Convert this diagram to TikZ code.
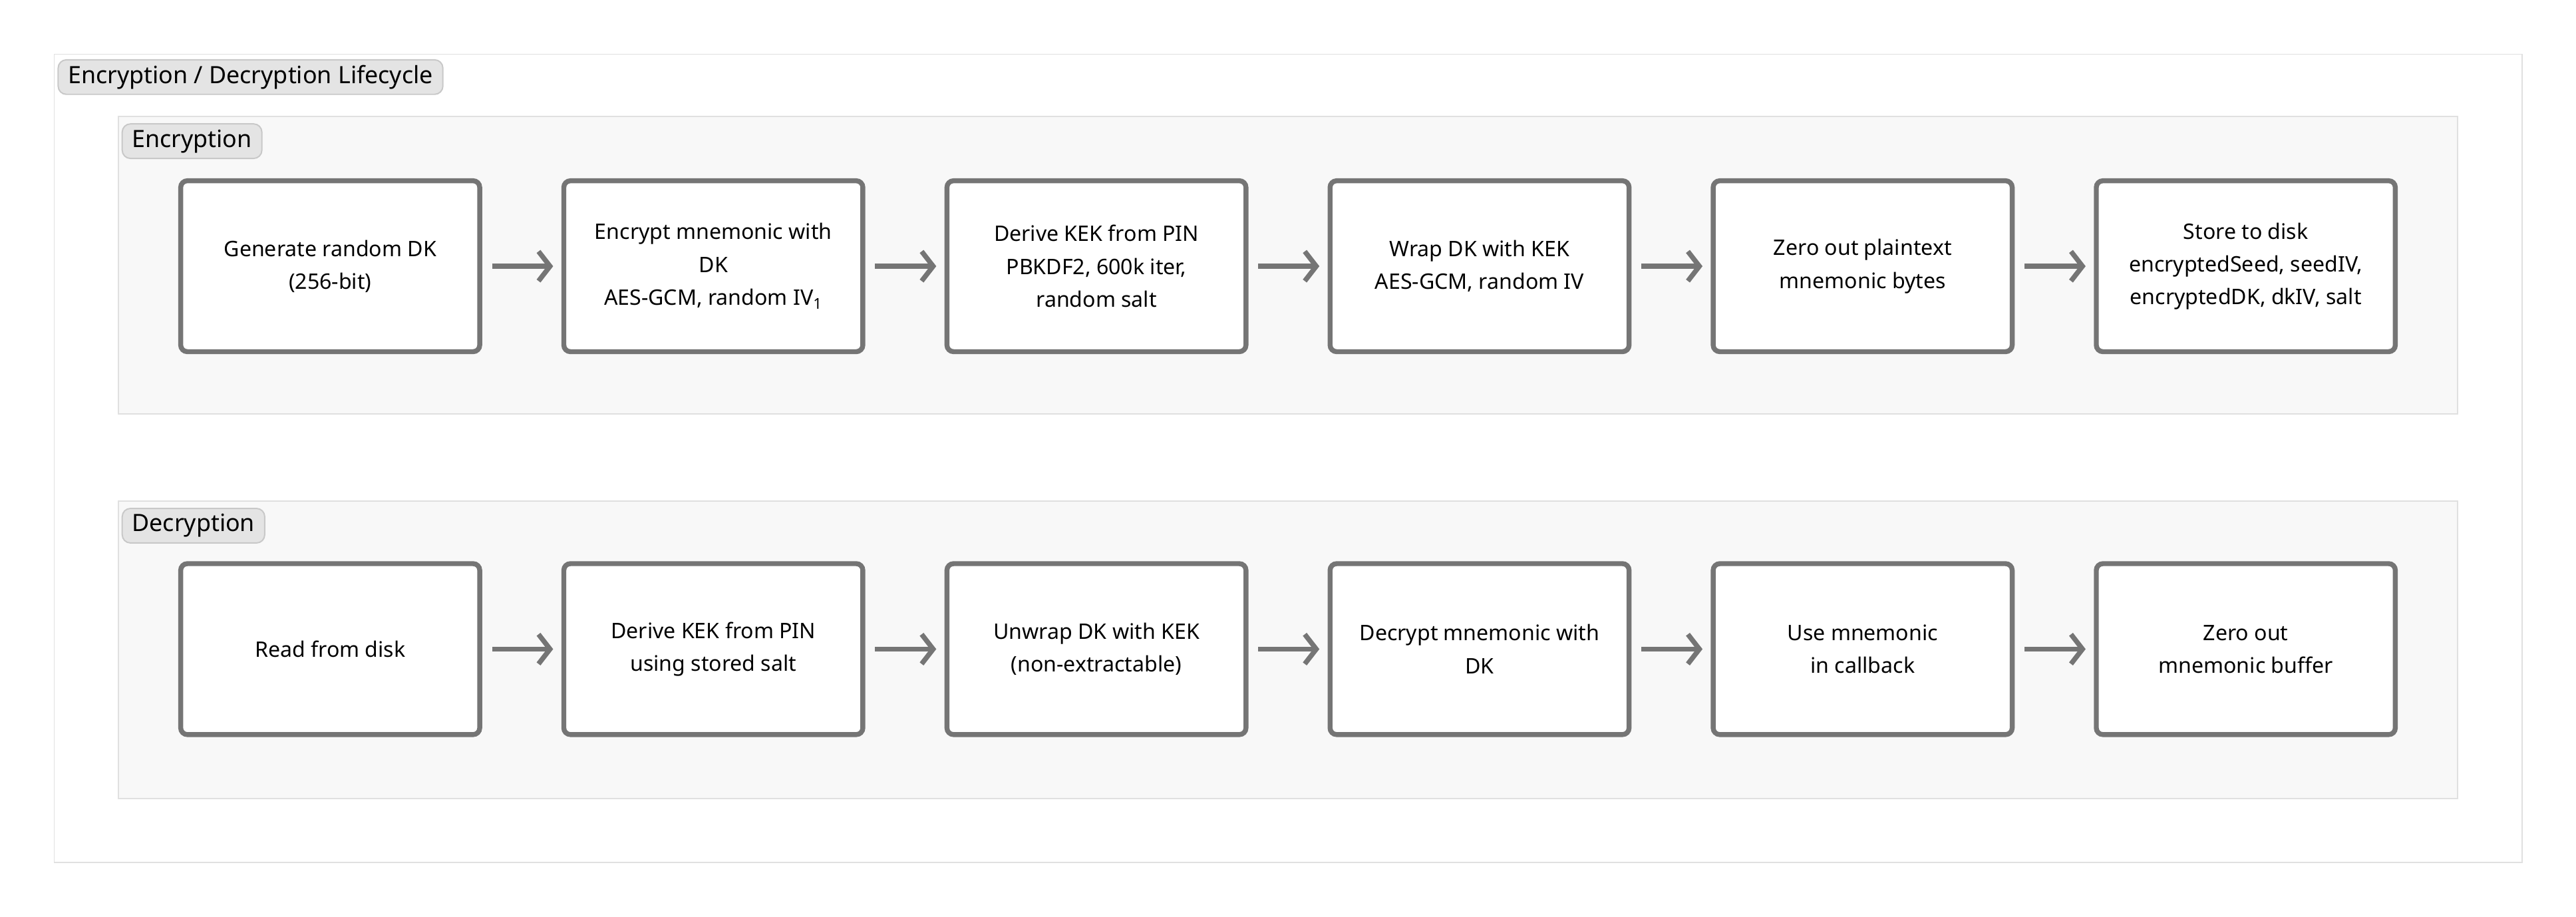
\documentclass[tikz,border=0pt]{standalone}
\usepackage{fontspec}
\setmainfont{Noto Sans}
\usetikzlibrary{arrows.meta}
\definecolor{bx}{HTML}{757575}
\definecolor{tabf}{HTML}{E4E4E4}
\definecolor{tabd}{HTML}{C8C8C8}
\definecolor{panf}{HTML}{F8F8F8}
\definecolor{pand}{HTML}{E0E0E0}
\begin{document}
\begin{tikzpicture}[x=1pt,y=-1pt,
  stepbox/.style={draw=bx,line width=3pt,rounded corners=4pt,fill=white,minimum width=182pt,minimum height=104pt,align=center,font=\fontsize{13}{20}\selectfont,inner sep=0pt},
  tab/.style={draw=tabd,fill=tabf,rounded corners=5pt,line width=0.8pt,anchor=north west,inner xsep=6pt,inner ysep=0pt,minimum height=21pt,font=\fontsize{14.5}{16}\selectfont},
  panel/.style={draw=pand,fill=panf,line width=0.8pt},
  arr/.style={draw=bx,line width=3pt,-{Straight Barb[length=7pt,width=18pt,line width=3pt]}}]
\useasboundingbox (0,0) rectangle (1568,558);
\fill[white] (0,0) rectangle (1568,558);
\draw[draw=pand,line width=0.8pt] (33,33) rectangle (1535,525);
\node[tab] (tt) at (35,36) {Encryption / Decryption Lifecycle};
\draw[panel] (72,71) rectangle (1496,252);
\node[tab] (te) at (74,75) {Encryption};
\draw[panel] (72,305) rectangle (1496,486);
\node[tab] (td) at (74,309) {Decryption};
\foreach \n/\t [count=\i from 0] in {
 e1/{Generate random DK\\(256-bit)},
 e2/{Encrypt mnemonic with\\DK\\AES-GCM, random IV\textsubscript{1}},
 e3/{Derive KEK from PIN\\PBKDF2, 600k iter,\\random salt},
 e4/{Wrap DK with KEK\\AES-GCM, random IV},
 e5/{Zero out plaintext\\mnemonic bytes},
 e6/{Store to disk\\encryptedSeed, seedIV,\\encryptedDK, dkIV, salt}}
 \node[stepbox] (\n) at (201+233.2*\i,162) {\t};
\foreach \n/\t [count=\i from 0] in {
 d1/{Read from disk},
 d2/{Derive KEK from PIN\\using stored salt},
 d3/{Unwrap DK with KEK\\(non-extractable)},
 d4/{Decrypt mnemonic with\\DK},
 d5/{Use mnemonic\\in callback},
 d6/{Zero out\\mnemonic buffer}}
 \node[stepbox] (\n) at (201+233.2*\i,395) {\t};
\foreach \r in {e,d}{
 \foreach \a/\b in {1/2,2/3,3/4,4/5,5/6}
  \draw[arr] ([xshift=6pt]\r\a.east) -- ([xshift=-5pt]\r\b.west);
}
\end{tikzpicture}
\end{document}
